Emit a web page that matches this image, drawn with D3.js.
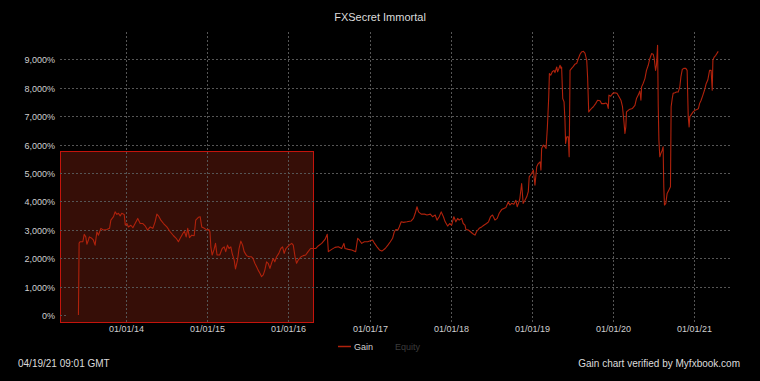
<!DOCTYPE html>
<html><head><meta charset="utf-8">
<script src="https://cdn.jsdelivr.net/npm/d3@7/dist/d3.min.js"></script>
<style>html,body{margin:0;padding:0;background:#000;}svg{display:block;}</style>
</head><body>
<svg id="chart" width="760" height="381"></svg>
<script>
const chartTitle = "FXSecret Immortal";
const seriesNames = ["Gain", "Equity"];
const footerLeft = "04/19/21 09:01 GMT";
const footerRight = "Gain chart verified by Myfxbook.com";

const dates = [
"2013-05-31","2013-06-03","2013-06-08","2013-06-20","2013-06-26","2013-07-03","2013-07-08","2013-07-15","2013-07-19","2013-07-30",
"2013-08-06","2013-08-14","2013-08-22","2013-08-29","2013-09-09","2013-09-20","2013-10-06","2013-10-18","2013-10-24","2013-11-05",
"2013-11-12","2013-11-20","2013-11-27","2013-12-05","2013-12-12","2013-12-23","2013-12-28",
"2014-01-04","2014-01-11","2014-01-22","2014-01-31","2014-02-10","2014-02-22","2014-03-05","2014-03-17","2014-03-27","2014-04-07",
"2014-04-19","2014-05-01","2014-05-11","2014-05-19","2014-05-26","2014-06-06","2014-06-18","2014-07-03","2014-07-18","2014-08-02",
"2014-08-14","2014-08-24","2014-09-01","2014-09-13","2014-09-20","2014-09-28","2014-10-05","2014-10-13","2014-10-23","2014-11-03",
"2014-11-10","2014-11-22","2014-11-30","2014-12-07","2014-12-19","2014-12-30",
"2015-01-08","2015-01-13","2015-01-17","2015-01-23","2015-01-31","2015-02-07","2015-02-14","2015-02-26","2015-03-09","2015-03-18",
"2015-03-25","2015-04-02","2015-04-09","2015-04-17","2015-04-23","2015-05-02","2015-05-08","2015-05-17","2015-05-24","2015-06-01",
"2015-06-09","2015-06-16","2015-06-27","2015-07-07","2015-07-19","2015-07-26","2015-08-03","2015-08-11","2015-08-18","2015-08-26",
"2015-09-02","2015-09-10","2015-09-17","2015-09-25","2015-10-02","2015-10-10","2015-10-17","2015-10-25","2015-11-01","2015-11-09",
"2015-11-19","2015-11-28","2015-12-06","2015-12-13","2015-12-21","2015-12-28",
"2016-01-05","2016-01-16","2016-01-23","2016-01-31","2016-02-07","2016-02-14","2016-02-27","2016-03-08","2016-03-19","2016-03-30",
"2016-04-10","2016-04-22","2016-05-03","2016-05-14","2016-05-30","2016-06-14","2016-06-24","2016-06-29","2016-07-14","2016-07-29",
"2016-08-13","2016-08-28","2016-09-07","2016-09-12","2016-09-27","2016-10-12","2016-10-30","2016-11-08","2016-11-15","2016-11-26",
"2016-12-08","2016-12-23",
"2017-01-04","2017-01-14","2017-01-23","2017-02-03","2017-02-14","2017-02-25","2017-03-12","2017-03-24","2017-04-04","2017-04-14",
"2017-04-22","2017-04-29","2017-05-08","2017-05-14","2017-05-23","2017-06-02","2017-06-18","2017-07-07","2017-07-17","2017-07-25",
"2017-08-02","2017-08-09","2017-08-21","2017-09-05","2017-09-16","2017-10-01","2017-10-11","2017-10-23","2017-10-31","2017-11-10",
"2017-11-19","2017-11-29","2017-12-07","2017-12-18","2017-12-27",
"2018-01-05","2018-01-15","2018-01-24","2018-02-01","2018-02-08","2018-02-19","2018-02-26","2018-03-06","2018-03-10","2018-03-21",
"2018-03-31","2018-04-09","2018-04-20","2018-04-27","2018-05-09","2018-05-20","2018-05-30","2018-06-11","2018-06-20","2018-06-29",
"2018-07-08","2018-07-19","2018-07-29","2018-08-07","2018-08-18","2018-08-28","2018-09-06","2018-09-17","2018-09-24","2018-10-02",
"2018-10-12","2018-10-21","2018-10-27","2018-11-04","2018-11-08","2018-11-16","2018-11-23","2018-12-01","2018-12-09","2018-12-16",
"2018-12-20","2018-12-31",
"2019-01-08","2019-01-15","2019-01-23","2019-01-30","2019-02-07","2019-02-11","2019-02-14","2019-02-22","2019-03-01","2019-03-06",
"2019-03-12","2019-03-18","2019-03-21","2019-03-27","2019-04-03","2019-04-11","2019-04-15","2019-04-23","2019-04-27","2019-05-03",
"2019-05-08","2019-05-12","2019-05-15","2019-05-20","2019-05-26","2019-05-30","2019-06-02","2019-06-07","2019-06-14","2019-06-18",
"2019-06-22","2019-06-29","2019-07-07","2019-07-14","2019-07-22","2019-07-29","2019-08-06","2019-08-13","2019-08-21","2019-08-28",
"2019-09-05","2019-09-09","2019-09-14","2019-09-20","2019-09-27","2019-10-05","2019-10-15","2019-10-24","2019-11-04","2019-11-11",
"2019-11-22","2019-12-01","2019-12-06","2019-12-11","2019-12-14","2019-12-22","2019-12-31",
"2020-01-10","2020-01-20","2020-01-29","2020-02-06","2020-02-13","2020-02-19","2020-02-24","2020-02-28","2020-03-02","2020-03-14",
"2020-03-29","2020-04-09","2020-04-16","2020-04-24","2020-05-01","2020-05-06","2020-05-09","2020-05-16","2020-05-24","2020-05-31",
"2020-06-08","2020-06-15","2020-06-23","2020-06-30","2020-07-05","2020-07-11","2020-07-15","2020-07-20","2020-07-23","2020-07-26",
"2020-07-30","2020-08-04","2020-08-10","2020-08-14","2020-08-17","2020-08-20","2020-08-26","2020-09-01","2020-09-09","2020-09-16",
"2020-09-19","2020-09-24","2020-09-28","2020-10-06","2020-10-13","2020-10-21","2020-10-28","2020-11-02","2020-11-08","2020-11-15",
"2020-11-24","2020-11-30","2020-12-05","2020-12-09","2020-12-12","2020-12-20","2020-12-27",
"2021-01-05","2021-01-13","2021-01-20","2021-01-25","2021-02-01","2021-02-09","2021-02-16","2021-02-24","2021-03-03","2021-03-11",
"2021-03-18","2021-03-23","2021-03-26","2021-04-01","2021-04-08","2021-04-19"
];
const gains = [
0,2530,2580,2580,2840,2750,2490,2640,2750,2700,
2640,2460,2930,2810,3050,2990,3010,3050,3340,3460,
3630,3540,3580,3490,3580,3540,3160,
3220,3100,3160,3070,3220,3400,3220,3220,3140,2990,
3100,3050,3280,3550,3490,3340,3220,3100,2930,2790,
2700,2580,2700,2870,2950,2750,3050,2720,2810,2790,
3340,3440,3460,3100,3050,2990,
3010,2930,2400,2110,2290,2520,2110,2110,2340,2400,
2230,2460,2340,2400,2170,1930,1620,1930,2340,2600,
2460,2230,2090,2050,2050,1990,1820,1700,1580,1470,
1350,1410,1580,1870,1820,1640,1820,1990,1870,2050,
2170,2340,2400,2170,2340,2400,
2460,2520,2460,2050,1820,1930,2050,2090,2110,2230,
2340,2340,2340,2430,2520,2660,2840,2230,2310,2380,
2400,2340,2520,2340,2310,2290,2230,2700,2640,2520,
2580,2580,
2610,2640,2520,2400,2290,2250,2340,2460,2580,2700,
2930,3010,2990,3100,3280,3260,3280,3310,3400,3580,
3810,3630,3550,3550,3520,3550,3460,3520,3340,3460,
3630,3460,3280,3130,3220,
3160,3460,3280,3400,3340,3400,3220,3160,3010,2990,
2930,2870,2810,2930,3050,3100,3160,3220,3280,3460,
3520,3340,3400,3580,3710,3750,3780,3980,3870,3930,
3900,4040,3810,3980,4100,4630,3930,4040,4160,4340,
4860,4980,
5100,4570,5220,5330,5390,5100,5860,5980,5920,5860,
6620,7670,8500,8440,8560,8610,8530,8730,8560,8680,
8790,8680,8730,7620,7500,6860,6040,6270,6270,5570,
8610,8680,8750,8830,8860,9020,9180,9260,9280,9220,
8970,8380,7150,7210,7270,7330,7440,7560,7540,7440,
7440,7460,7420,7270,7740,7700,7800,
7820,7800,7670,7560,7330,6860,6390,6620,7150,7230,
7270,7380,7620,7740,7880,7560,8030,8150,8320,8610,
8790,9020,9200,9180,9020,8610,8790,9490,7330,6150,
5570,5690,5800,5920,4510,3870,3930,4280,4400,4510,
7330,7620,7800,7820,7850,7850,8030,8380,8640,8680,
8680,8610,6980,6620,6980,7070,7150,
7210,7230,7270,7440,7560,7740,7910,8150,8270,8610,
8610,7910,8970,9080,9140,9280
];
const yTickValues = [0,1000,2000,3000,4000,5000,6000,7000,8000,9000];
const xTickDates = ["2014-01-01","2015-01-01","2016-01-01","2017-01-01","2018-01-01","2019-01-01","2020-01-01","2021-01-01"];
const xDomainDates = ["2013-03-09","2021-06-11"];
const highlightDates = ["2013-03-09","2016-04-20"];
const highlightTop = [5770];

(function(){
const parse = d3.timeParse("%Y-%m-%d");
const data = dates.map((d,i)=>({date:parse(d), value:gains[i]}));

const svg = d3.select("#chart");
const pLeft = 60, pRight = 730, pTop = 32, pBottom = 322;
const x = d3.scaleTime().domain(xDomainDates.map(parse)).range([pLeft, pRight]);
const y = d3.scaleLinear().domain([0, 9000]).range([315, 59.3]);
const font = "'Liberation Sans', Arial, sans-serif";
const gridColor = "#555";

svg.append("rect").attr("width",760).attr("height",381).attr("fill","#000");

const hx0 = Math.round(x(parse(highlightDates[0])));
const hx1 = Math.round(x(parse(highlightDates[1])));
const hy0 = Math.round(y(highlightTop[0]));
svg.append("rect")
  .attr("x", hx0 + 0.5).attr("y", hy0 + 0.5)
  .attr("width", hx1 - hx0).attr("height", pBottom - hy0)
  .attr("fill", "#360e07")
  .attr("stroke", "#c4140c")
  .attr("stroke-width", 1);

const grid = svg.append("g");
yTickValues.forEach(v=>{
  const yy = Math.round(y(v)) + 0.5;
  grid.append("line").attr("x1", pLeft).attr("x2", v === 0 ? pLeft + 6 : pRight)
    .attr("y1", yy).attr("y2", yy)
    .attr("stroke", gridColor).attr("stroke-dasharray", "2,2").attr("stroke-width",1);
  svg.append("text").attr("x", 55).attr("y", yy + 3.5)
    .attr("text-anchor","end").attr("fill","#cfcfcf")
    .attr("font-family", font).attr("font-size", 9)
    .text(d3.format(",")(v) + "%");
});

xTickDates.forEach(d=>{
  const xx = Math.round(x(parse(d))) + 0.5;
  grid.append("line").attr("x1", xx).attr("x2", xx).attr("y1", pTop).attr("y2", pBottom)
    .attr("stroke", gridColor).attr("stroke-dasharray", "2,2").attr("stroke-width",1);
  svg.append("text").attr("x", xx).attr("y", 331.5)
    .attr("text-anchor","middle").attr("fill","#cfcfcf")
    .attr("font-family", font).attr("font-size", 9)
    .text(d3.timeFormat("%m/%d/%y")(parse(d)));
});

const line = d3.line().x(d=>x(d.date)).y(d=>y(d.value));
svg.append("path").datum(data).attr("d", line)
  .attr("fill","none").attr("stroke","#b0220c").attr("stroke-width",1.1)
  .attr("stroke-linejoin","round");

svg.append("text").attr("x", 380).attr("y", 21).attr("text-anchor","middle")
  .attr("fill","#dcdcdc").attr("font-family", font).attr("font-size", 11).text(chartTitle);

svg.append("line").attr("x1",338).attr("x2",351).attr("y1",346.5).attr("y2",346.5)
  .attr("stroke","#b0220c").attr("stroke-width",1.5);
svg.append("text").attr("x",354).attr("y",350).attr("fill","#cfcfcf")
  .attr("font-family", font).attr("font-size", 9).text(seriesNames[0]);
svg.append("text").attr("x",395).attr("y",350).attr("fill","#3c3c3c")
  .attr("font-family", font).attr("font-size", 9).text(seriesNames[1]);

svg.append("text").attr("x",18).attr("y",367).attr("fill","#dcdcdc")
  .attr("font-family", font).attr("font-size", 10).text(footerLeft);
svg.append("text").attr("x",740).attr("y",367).attr("text-anchor","end").attr("fill","#dcdcdc")
  .attr("font-family", font).attr("font-size", 10).text(footerRight);
})();
</script>
</body></html>
